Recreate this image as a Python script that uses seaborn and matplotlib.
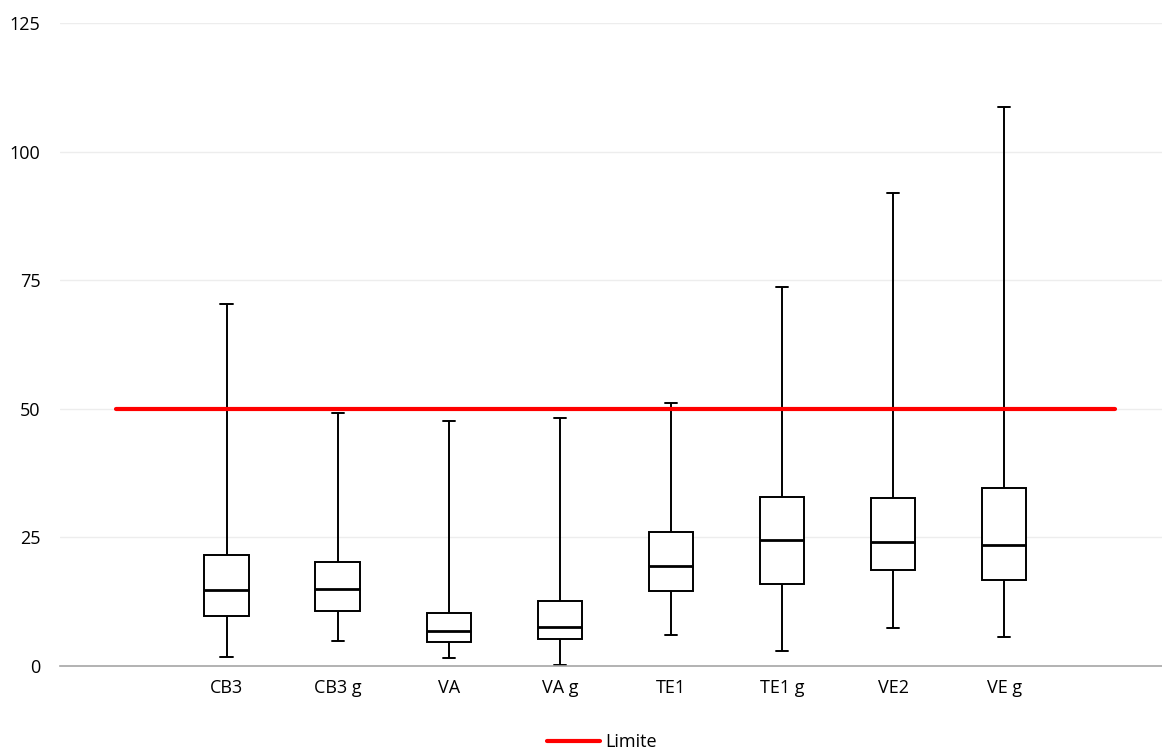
import matplotlib

matplotlib.use("Agg")
import matplotlib.pyplot as plt
import pandas as pd
import seaborn as sns


CATEGORIES = ["CB3", "CB3 g", "VA", "VA g", "TE1", "TE1 g", "VE2", "VE g"]
WHISKER_LOW = [1.8, 4.9, 1.5, 0.2, 6.0, 2.9, 7.4, 5.6]
Q1 = [9.7, 10.7, 4.7, 5.2, 14.6, 15.9, 18.7, 16.7]
MEDIAN = [14.8, 15.0, 6.9, 7.5, 19.4, 24.4, 24.2, 23.6]
Q3 = [21.6, 20.3, 10.3, 12.6, 26.0, 32.9, 32.7, 34.7]
WHISKER_HIGH = [70.3, 49.2, 47.6, 48.3, 51.2, 73.7, 91.9, 108.7]

LIMIT = 50
LIMIT_LABEL = "Limite"
Y_TICKS = [0, 25, 50, 75, 100, 125]

# Excel leaves an empty slot on both sides; the limit line runs across all slots
SLOTS = [" "] + CATEGORIES + ["  "]


def five_number_frame() -> pd.DataFrame:
    # five points per group -> quartiles fall exactly on the given values
    rows = []
    for i, cat in enumerate(CATEGORIES):
        for v in (WHISKER_LOW[i], Q1[i], MEDIAN[i], Q3[i], WHISKER_HIGH[i]):
            rows.append({"serie": cat, "valeur": v})
    return pd.DataFrame(rows)


def main() -> None:
    sns.set_style("white")
    plt.rcParams["font.family"] = ["Open Sans", "DejaVu Sans"]
    plt.rcParams["text.color"] = "black"

    fig = plt.figure(figsize=(11.62, 7.54), dpi=100)
    ax = fig.add_axes([0.0516, 0.1167, 0.9484, 0.8528])

    df = five_number_frame()
    sns.boxplot(
        data=df,
        x="serie",
        y="valeur",
        order=SLOTS,
        whis=(0, 100),
        showfliers=False,
        width=0.4,
        color="white",
        linecolor="black",
        linewidth=1.4,
        medianprops={"linewidth": 2.0},
        capwidths=0.11,
        ax=ax,
    )

    sns.lineplot(
        x=list(range(len(SLOTS))),
        y=[LIMIT] * len(SLOTS),
        color="#FF0000",
        linewidth=3.0,
        label=LIMIT_LABEL,
        zorder=5,
        ax=ax,
    )

    ax.set_xlim(-0.5, 9.42)
    ax.set_ylim(0, 125)
    ax.set_yticks(Y_TICKS)
    ax.set_xlabel("")
    ax.set_ylabel("")
    ax.set_xticks(range(len(SLOTS)))
    ax.set_xticklabels(SLOTS)
    ax.yaxis.grid(True, color="#EDEDED", linewidth=1.0)
    ax.set_axisbelow(True)
    for side in ("top", "right", "left"):
        ax.spines[side].set_visible(False)
    ax.spines["bottom"].set_color("#A6A6A6")
    ax.spines["bottom"].set_linewidth(1.2)
    ax.tick_params(axis="y", length=0, pad=14, labelsize=13, labelcolor="#000000")
    ax.tick_params(axis="x", length=0, pad=9, labelsize=13, labelcolor="#000000")

    handles, labels = ax.get_legend_handles_labels()
    if ax.get_legend() is not None:
        ax.get_legend().remove()
    fig.legend(
        handles,
        labels,
        loc="center",
        bbox_to_anchor=(0.518, 0.016),
        frameon=False,
        fontsize=13,
        handlelength=2.9,
        handletextpad=0.3,
        labelcolor="black",
    )

    fig.savefig("out.png", dpi=100)
    plt.close(fig)


if __name__ == "__main__":
    main()
